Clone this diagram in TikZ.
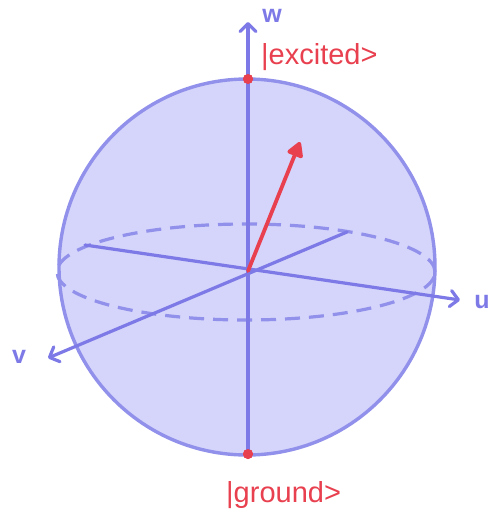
\documentclass[tikz,border=0pt]{standalone}
\usepackage{fontspec}
\setmainfont{Liberation Sans}
\usetikzlibrary{arrows.meta}
\definecolor{axiscol}{HTML}{7D79E6}
\definecolor{spherefill}{HTML}{D5D5FB}
\definecolor{spherecol}{HTML}{9190EA}
\definecolor{redcol}{HTML}{E8404F}
\tikzset{
  axisline/.style={draw=axiscol,line width=3.2pt,line cap=round,line join=round,
    -{Straight Barb[length=8pt,width=16pt,line width=3.2pt,round]}},
  sphereline/.style={draw=spherecol,line width=3.4pt},
  equator/.style={draw=spherecol,line width=3.2pt,dash pattern=on 15pt off 9pt},
  reddot/.style={circle,fill=redcol,inner sep=0pt,minimum size=10pt},
  statevec/.style={draw=redcol,line width=3.8pt,line cap=round,
    -{Triangle[length=17pt,width=18pt,round]}},
  axlabel/.style={text=axiscol,font=\fontsize{25}{27}\selectfont\bfseries,inner sep=0pt},
  statelabel/.style={text=redcol,font=\fontsize{29}{31}\selectfont,inner sep=0pt,anchor=west}
}
\begin{document}
\begin{tikzpicture}[x=1pt,y=-1pt]
\useasboundingbox (0,0) rectangle (493,512);
% sphere
\fill[spherefill] (247,267) circle [radius=188pt];
\draw[equator] (246,272) ellipse [x radius=189pt, y radius=48pt];
\draw[sphereline] (247,267) circle [radius=188pt];
% coordinates
\coordinate (O) at (248,271);
\coordinate (wtip) at (248,22);
\coordinate (uend) at (85,245);
\coordinate (utip) at (460,300);
\coordinate (vend) at (347,232);
\coordinate (vtip) at (48,358);
\coordinate (rtip) at (300,142);
\node[reddot] (exc) at (248,79) {};
\node[reddot] (gnd) at (248,454) {};
% axes
\draw[axisline] (gnd.center) -- (wtip);
\draw[axisline] (uend) -- (utip);
\draw[axisline] (vend) -- (vtip);
\node[reddot] at (exc.center) {};
\node[reddot] at (gnd.center) {};
% state vector
\draw[statevec] (O) -- (rtip);
% labels
\node[axlabel] (wlab) at (272,16) {w};
\node[axlabel] (ulab) at (482,302) {u};
\node[axlabel] (vlab) at (19,357) {v};
\node[statelabel] (exclab) at (261,57) {|excited>};
\node[statelabel] (gndlab) at (226,495) {|ground>};
\end{tikzpicture}
\end{document}
